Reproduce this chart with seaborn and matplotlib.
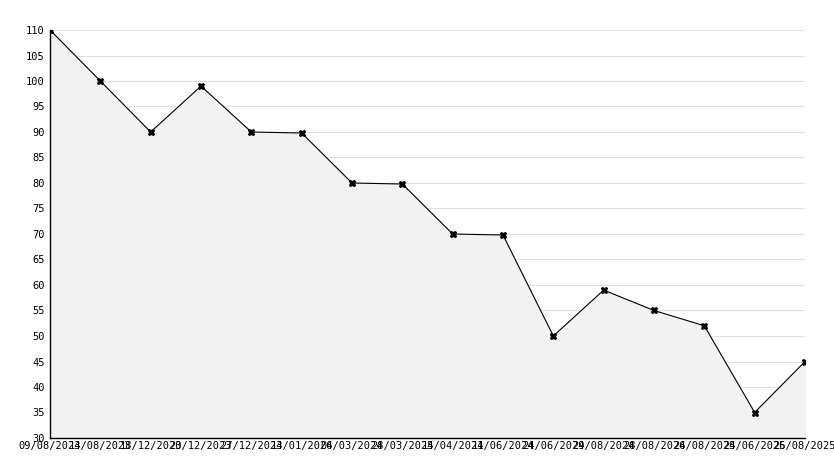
import matplotlib
matplotlib.use("Agg")
import matplotlib.pyplot as plt
import seaborn as sns
import numpy as np
import pandas as pd
from matplotlib.ticker import MultipleLocator

dates = ["09/08/2023", "14/08/2023", "18/12/2023", "20/12/2023", "27/12/2023",
         "14/01/2024", "06/03/2024", "28/03/2024", "15/04/2024", "11/06/2024",
         "24/06/2024", "29/08/2024", "28/08/2024", "26/08/2024", "25/06/2025",
         "26/08/2025"]
values = [110, 100, 90, 99, 90, 89.8, 80, 79.8, 70, 69.8, 50, 59, 55, 52, 35, 45]

df = pd.DataFrame({"idx": np.arange(len(dates)), "value": values, "date": dates})

sns.set_style("white")
plt.rcParams['font.family'] = ['DejaVu Sans Mono', 'DejaVu Sans']

fig = plt.figure(figsize=(8.34, 4.68), dpi=100)
ax = fig.add_axes([50/834, 1-438/468, 755/834, 408/468])

ax.fill_between(df["idx"], df["value"], 30, color="#f2f2f2", zorder=1)
sns.lineplot(data=df, x="idx", y="value", ax=ax, color="black", linewidth=0.8,
             marker="X", markersize=5, markeredgecolor="black", zorder=3)

ax.set_xlim(0, len(dates) - 1)
ax.set_ylim(30, 110)
ax.yaxis.set_major_locator(MultipleLocator(5))
ax.yaxis.set_minor_locator(MultipleLocator(1))
ax.set_xticks(df["idx"])
ax.set_xticklabels(dates, fontsize=7.5, color="black")
ax.tick_params(axis="y", which="major", labelsize=7.5, labelcolor="black", length=4,
               direction="inout", width=0.8, pad=2)
ax.tick_params(axis="y", which="minor", length=3, direction="in", width=0.6)
ax.tick_params(axis="x", length=4, direction="in", width=0.8, pad=2)
ax.yaxis.grid(True, which="major", color="#e0e0e0", linewidth=0.8, zorder=0)
ax.set_axisbelow(True)
ax.set_xlabel("")
ax.set_ylabel("")
for s in ["top", "right"]:
    ax.spines[s].set_visible(False)
for s in ["left", "bottom"]:
    ax.spines[s].set_color("black")
    ax.spines[s].set_linewidth(1)

fig.savefig("out.png", dpi=100, facecolor="white")
